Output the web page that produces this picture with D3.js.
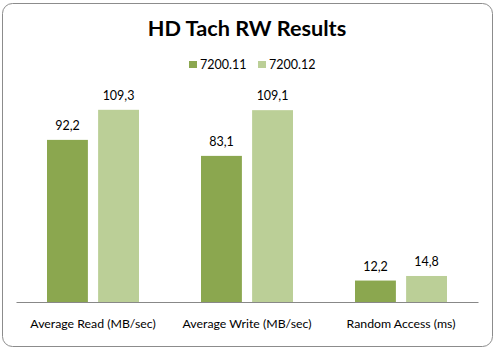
<!DOCTYPE html>
<html>
<head>
<meta charset="utf-8">
<script src="https://cdn.jsdelivr.net/npm/d3@7"></script>
<style>
body { margin: 0; background: #fff; }
text { font-family: Lato, "Open Sans", sans-serif; fill: #000; }
</style>
</head>
<body>
<div class="central"></div>
<script>
// chart data
var categories = ["Average Read (MB/sec)", "Average Write (MB/sec)", "Random Access (ms)"];
var seriesNames = ["7200.11", "7200.12"];
var values1 = [92.2, 83.1, 12.2];
var values2 = [109.3, 109.1, 14.8];
var colors = ["#8ba74f", "#bbcf97"];

var width = 496,
	height = 349;

var svg = d3.select(".central")
			.append("svg")
			.attr("width", width)
			.attr("height", height);

// outer frame
svg.append("rect")
	.attr("x", 2.5).attr("y", 3.5)
	.attr("width", 490).attr("height", 343)
	.attr("rx", 10).attr("ry", 10)
	.style("fill", "#fff")
	.style("stroke", "#8c8c8c")
	.style("stroke-width", 1);

svg.append("text")
	.attr("x", 247).attr("y", 36)
	.attr("text-anchor", "middle")
	.style("font-size", "21.7px")
	.style("font-weight", "bold")
	.text("HD Tach RW Results");

// scales
var x = d3.scaleBand()
		.domain(categories)
		.range([16, 478]);

var xs = d3.scaleBand()
		.domain(seriesNames)
		.range([0, 92])
		.paddingInner(0.2);

var y = d3.scaleLinear()
		.domain([0, 120])
		.range([302, 91]);

var rows = categories.map(function(c, i){
	return {cat: c, vals: [values1[i], values2[i]]};
});

var groups = svg.selectAll(".grp")
			.data(rows)
			.enter()
			.append("g")
			.attr("class", "grp")
			.attr("transform", function(d){
				return "translate(" + (x(d.cat) + x.bandwidth() / 2 - 46) + ",0)";
			});

groups.selectAll("rect")
	.data(function(d){ return d.vals.map(function(v, j){ return {s: seriesNames[j], v: v, j: j}; }); })
	.enter()
	.append("rect")
	.attr("x", function(d){ return xs(d.s); })
	.attr("y", function(d){ return y(d.v); })
	.attr("width", xs.bandwidth())
	.attr("height", function(d){ return y(0) - y(d.v); })
	.style("fill", function(d){ return colors[d.j]; });

groups.selectAll(".val")
	.data(function(d){ return d.vals.map(function(v, j){ return {s: seriesNames[j], v: v}; }); })
	.enter()
	.append("text")
	.attr("class", "val")
	.attr("x", function(d){ return xs(d.s) + xs.bandwidth() / 2; })
	.attr("y", function(d){ return y(d.v) - 10; })
	.attr("text-anchor", "middle")
	.style("font-size", "12.5px")
	.text(function(d){ return String(d.v).replace(".", ","); });

// x axis
var xAxis = d3.axisBottom(x).tickSize(0).tickPadding(17);
var ax = svg.append("g")
		.attr("transform", "translate(0," + y(0) + ")")
		.call(xAxis);
ax.select(".domain").style("stroke", "#888");
ax.selectAll("text")
	.style("font-size", "12.3px")
	.style("font-family", "Lato, 'Open Sans', sans-serif");

// legend
var legendX = [189, 258];
var leg = svg.selectAll(".leg")
		.data(seriesNames)
		.enter()
		.append("g")
		.attr("class", "leg")
		.attr("transform", function(d, i){ return "translate(" + legendX[i] + ",61)"; });
leg.append("rect")
	.attr("width", 8).attr("height", 7)
	.style("fill", function(d, i){ return colors[i]; });
leg.append("text")
	.attr("x", 11).attr("y", 7.5)
	.style("font-size", "12.5px")
	.text(function(d){ return d; });
</script>
</body>
</html>
